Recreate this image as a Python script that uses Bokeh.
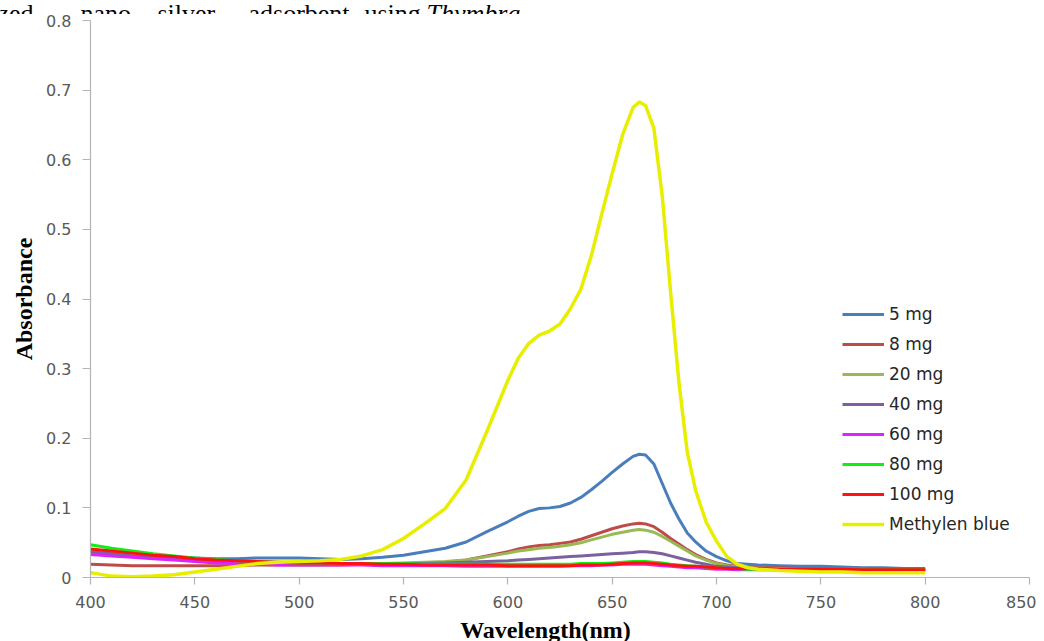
from bokeh.plotting import figure
from bokeh.layouts import column
from bokeh.models import Range1d, FixedTicker, Legend, LegendItem, Label
from bokeh.embed import file_html
from bokeh.resources import INLINE

# ---------------- data ----------------
wavelength = [400, 410, 420, 430, 440, 450, 460, 470, 480, 490,
              500, 510, 520, 530, 540, 550, 560, 570, 580, 590,
              600, 605, 610, 615, 620, 625, 630, 635, 640, 645,
              650, 655, 660, 663, 666, 670, 674, 678, 682, 686,
              690, 695, 700, 705, 710, 715, 720, 730, 740, 750,
              760, 770, 780, 790, 800]

mg5 = [0.036, 0.034, 0.032, 0.030, 0.029, 0.028, 0.027, 0.027, 0.028, 0.028,
       0.028, 0.027, 0.026, 0.027, 0.029, 0.032, 0.037, 0.042, 0.051, 0.066,
       0.080, 0.088, 0.095, 0.099, 0.100, 0.102, 0.107, 0.115, 0.126, 0.138,
       0.151, 0.163, 0.174, 0.177, 0.176, 0.163, 0.135, 0.107, 0.084, 0.064,
       0.051, 0.038, 0.030, 0.024, 0.020, 0.019, 0.018, 0.017, 0.016, 0.016,
       0.015, 0.014, 0.014, 0.013, 0.013]

mg8 = [0.019, 0.018, 0.017, 0.017, 0.017, 0.017, 0.017, 0.017, 0.018, 0.018,
       0.018, 0.018, 0.018, 0.019, 0.019, 0.020, 0.021, 0.022, 0.025, 0.031,
       0.037, 0.041, 0.044, 0.046, 0.047, 0.049, 0.051, 0.055, 0.060, 0.065,
       0.070, 0.074, 0.077, 0.078, 0.077, 0.073, 0.065, 0.056, 0.048, 0.040,
       0.033, 0.026, 0.021, 0.018, 0.016, 0.015, 0.014, 0.014, 0.013, 0.013,
       0.013, 0.013, 0.012, 0.012, 0.012]

mg20 = [0.038, 0.035, 0.032, 0.030, 0.028, 0.026, 0.024, 0.023, 0.022, 0.021,
        0.020, 0.020, 0.020, 0.020, 0.020, 0.021, 0.022, 0.023, 0.025, 0.030,
        0.035, 0.038, 0.040, 0.042, 0.043, 0.045, 0.047, 0.050, 0.054, 0.058,
        0.062, 0.065, 0.068, 0.069, 0.068, 0.065, 0.059, 0.052, 0.045, 0.038,
        0.031, 0.025, 0.020, 0.017, 0.015, 0.014, 0.013, 0.013, 0.012, 0.012,
        0.012, 0.012, 0.011, 0.011, 0.011]

mg40 = [0.037, 0.034, 0.031, 0.029, 0.027, 0.025, 0.023, 0.022, 0.021, 0.020,
        0.019, 0.019, 0.019, 0.019, 0.019, 0.020, 0.020, 0.021, 0.022, 0.023,
        0.024, 0.025, 0.026, 0.027, 0.028, 0.029, 0.030, 0.031, 0.032, 0.033,
        0.034, 0.035, 0.036, 0.037, 0.037, 0.036, 0.034, 0.031, 0.028, 0.025,
        0.022, 0.019, 0.016, 0.015, 0.014, 0.013, 0.012, 0.012, 0.012, 0.012,
        0.011, 0.011, 0.011, 0.011, 0.011]

mg60 = [0.033, 0.031, 0.029, 0.027, 0.025, 0.023, 0.021, 0.020, 0.019, 0.018,
        0.018, 0.018, 0.018, 0.018, 0.017, 0.017, 0.017, 0.017, 0.016, 0.016,
        0.016, 0.016, 0.016, 0.016, 0.016, 0.016, 0.017, 0.017, 0.017, 0.018,
        0.018, 0.019, 0.019, 0.019, 0.019, 0.018, 0.017, 0.016, 0.015, 0.014,
        0.014, 0.013, 0.012, 0.012, 0.011, 0.011, 0.011, 0.011, 0.010, 0.010,
        0.010, 0.010, 0.010, 0.010, 0.010]

mg80 = [0.047, 0.042, 0.038, 0.034, 0.031, 0.028, 0.026, 0.024, 0.023, 0.022,
        0.021, 0.021, 0.020, 0.020, 0.020, 0.020, 0.019, 0.019, 0.019, 0.019,
        0.019, 0.019, 0.019, 0.019, 0.019, 0.019, 0.019, 0.020, 0.020, 0.020,
        0.021, 0.022, 0.023, 0.023, 0.023, 0.022, 0.021, 0.019, 0.018, 0.017,
        0.016, 0.015, 0.014, 0.013, 0.013, 0.012, 0.012, 0.012, 0.011, 0.011,
        0.011, 0.011, 0.011, 0.011, 0.011]

mg100 = [0.041, 0.038, 0.035, 0.032, 0.030, 0.027, 0.025, 0.024, 0.023, 0.022,
         0.021, 0.021, 0.020, 0.020, 0.019, 0.019, 0.018, 0.018, 0.018, 0.018,
         0.017, 0.017, 0.017, 0.017, 0.017, 0.017, 0.017, 0.018, 0.018, 0.018,
         0.019, 0.020, 0.021, 0.021, 0.021, 0.020, 0.019, 0.018, 0.017, 0.016,
         0.016, 0.015, 0.014, 0.013, 0.013, 0.013, 0.013, 0.012, 0.012, 0.012,
         0.012, 0.011, 0.011, 0.011, 0.011]

methylene_blue = [0.007, 0.002, 0.001, 0.002, 0.004, 0.008, 0.012, 0.016, 0.020, 0.022,
                  0.023, 0.024, 0.026, 0.031, 0.040, 0.056, 0.077, 0.099, 0.140, 0.210,
                  0.283, 0.315, 0.336, 0.348, 0.354, 0.364, 0.386, 0.414, 0.462, 0.522,
                  0.580, 0.636, 0.675, 0.683, 0.678, 0.645, 0.548, 0.410, 0.280, 0.180,
                  0.125, 0.080, 0.052, 0.030, 0.019, 0.014, 0.012, 0.010, 0.009, 0.008,
                  0.008, 0.007, 0.007, 0.007, 0.007]

series_names = ["5 mg", "8 mg", "20 mg", "40 mg", "60 mg", "80 mg", "100 mg", "Methylen blue"]
series_values = [mg5, mg8, mg20, mg40, mg60, mg80, mg100, methylene_blue]
series_colors = ["#4a7ebb", "#be4b48", "#98b954", "#7d60a0", "#dd22ff", "#11ee11", "#ff1111", "#e8ee00"]
series_widths = [3, 3, 3, 3, 3, 3, 3, 3.5]

x_ticks = [400, 450, 500, 550, 600, 650, 700, 750, 800, 850]
y_ticks = [0, 0.1, 0.2, 0.3, 0.4, 0.5, 0.6, 0.7, 0.8]

# cut-off caption of the source document (text strip above the chart)
caption_words = ["zed", "nano", "silver", "adsorbent", "using"]
caption_italic = "Thymbra"
x_title = "Wavelength(nm)"
y_title = "Absorbance"

W = 1036
serif = "Liberation Serif"
tick_font = "DejaVu Sans"


def strip(height):
    f = figure(width=W, height=height, output_backend="svg", toolbar_location=None,
               x_range=Range1d(0, W), y_range=Range1d(0, height),
               x_axis_type=None, y_axis_type=None, min_border=0)
    f.outline_line_color = None
    f.xgrid.visible = False
    f.ygrid.visible = False
    try:
        f.frame_align = False
    except Exception:
        pass
    return f


# ---------------- caption strip ----------------
cap = strip(14)
caption_pos = [-3, 80, 157, 248, 364]
for word, wx in zip(caption_words, caption_pos):
    cap.add_layout(Label(x=wx, y=1, text=word, text_align="left", text_baseline="alphabetic",
                         text_font=serif, text_font_size="26px", text_color="black"))
cap.add_layout(Label(x=426, y=1, text=caption_italic, text_align="left",
                     text_baseline="alphabetic", text_font=serif, text_font_style="italic",
                     text_font_size="26px", text_color="black"))

# ---------------- main chart ----------------
p = figure(width=W, height=603, output_backend="svg", toolbar_location=None,
           x_range=Range1d(400, 850), y_range=Range1d(0, 0.8),
           min_border_left=90, min_border_right=7, min_border_top=6, min_border_bottom=40)
p.outline_line_color = None
p.xgrid.grid_line_color = None
p.ygrid.grid_line_color = None

for ax in (p.xaxis[0], p.yaxis[0]):
    ax.axis_line_color = "#b4b4b4"
    ax.axis_line_width = 1.2
    ax.major_tick_line_color = "#b4b4b4"
    ax.major_tick_line_width = 1.2
    ax.minor_tick_line_color = None
    ax.major_tick_in = 0
    ax.major_label_text_font = tick_font
    ax.major_label_text_font_size = "16px"
    ax.major_label_text_color = "#595959"

p.xaxis.ticker = FixedTicker(ticks=x_ticks)
p.yaxis.ticker = FixedTicker(ticks=y_ticks)
p.xaxis.major_tick_out = 7
p.yaxis.major_tick_out = 8
p.xaxis.major_label_standoff = 11
p.yaxis.major_label_standoff = 11

p.yaxis.axis_label = y_title
p.yaxis.axis_label_text_font = serif
p.yaxis.axis_label_text_font_style = "bold"
p.yaxis.axis_label_text_font_size = "24px"
p.yaxis.axis_label_text_color = "black"
p.yaxis.axis_label_standoff = 6

items = []
for name, vals, col, lw in zip(series_names, series_values, series_colors, series_widths):
    r = p.line(wavelength, vals, line_color=col, line_width=lw, line_join="round")
    items.append(LegendItem(label=name, renderers=[r]))

legend = Legend(items=items, location=(752, 43), orientation="vertical",
                glyph_width=42, glyph_height=20, label_height=20, spacing=10,
                label_standoff=5, padding=0, margin=0,
                border_line_color=None, background_fill_alpha=0,
                label_text_font=tick_font, label_text_font_size="17px",
                label_text_color="#262626")
p.add_layout(legend, "center")

# ---------------- x-axis title strip ----------------
xt = strip(24)
xt.add_layout(Label(x=545, y=12, text=x_title, text_align="center", text_baseline="middle",
                    text_font=serif, text_font_style="bold", text_font_size="24px",
                    text_color="black"))

layout = column(cap, p, xt, spacing=0)
open("out.html", "w").write(file_html(layout, INLINE))
